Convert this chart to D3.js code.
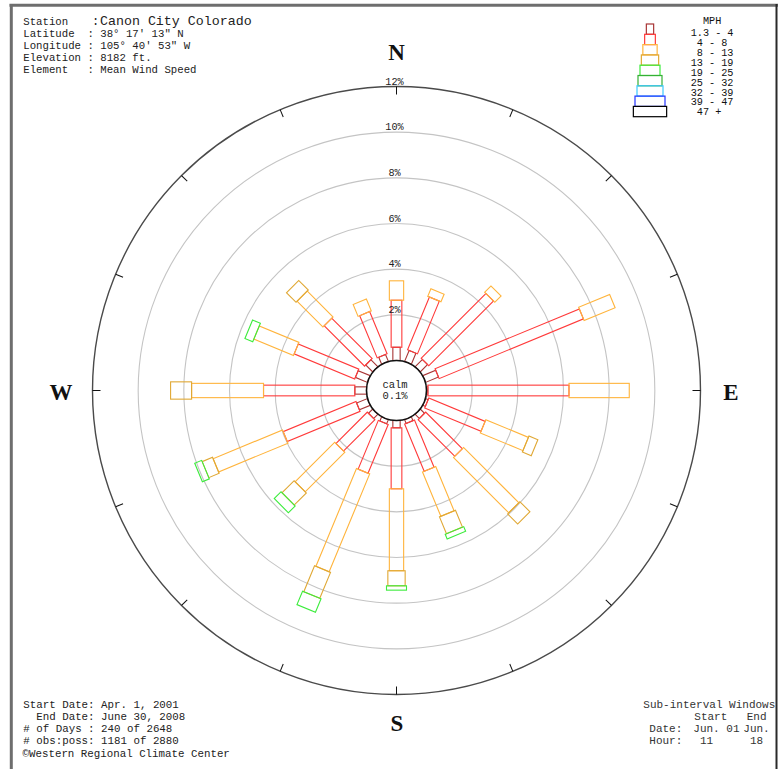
<!DOCTYPE html>
<html><head><meta charset="utf-8">
<script src="https://cdn.jsdelivr.net/npm/d3@7/dist/d3.min.js"></script>
<style>
html,body{margin:0;padding:0;background:#fff;overflow:hidden}
text{white-space:pre}
</style>
</head><body>
<svg id="chart" width="780" height="769" xmlns="http://www.w3.org/2000/svg"></svg>
<script>
// ---------- DATA ----------
const directions = ["N","NNE","NE","ENE","E","ESE","SE","SSE","S","SSW","SW","WSW","W","WNW","NW","NNW"];
const speedClasses = ["1.3 - 4"," 4 - 8"," 8 - 13","13 - 19","19 - 25","25 - 32","32 - 39","39 - 47"," 47 +"];
// percent of observations, per direction, for each speed class (MPH)
const s1_3to4  = [0.58,0.52,0.45,0.61,0.06,0.12,0.26,0.18,0.32,0.20,0.26,0.51,0.51,0.57,0.43,0.33];
const s4to8    = [2.06,2.50,4.01,6.84,6.18,2.67,2.27,2.24,2.67,2.31,1.94,3.45,4.00,2.87,2.50,2.00];
const s8to13   = [0.85,0.36,0.39,1.47,2.64,2.02,3.42,2.10,3.59,4.64,2.45,3.29,3.15,1.88,1.60,0.56];
const s13to19  = [0,0,0,0,0,0.42,0.62,0.80,0.66,1.23,0.75,0.49,0.92,0,0.59,0];
const s19to25  = [0,0,0,0,0,0,0,0.22,0.19,0.64,0.42,0.33,0,0.37,0,0];
const s25to32  = [0,0,0,0,0,0,0,0,0,0,0,0,0,0,0,0];
const s32to39  = [0,0,0,0,0,0,0,0,0,0,0,0,0,0,0,0];
const s39to47  = [0,0,0,0,0,0,0,0,0,0,0,0,0,0,0,0];
const s47plus  = [0,0,0,0,0,0,0,0,0,0,0,0,0,0,0,0];
const seriesValues = [s1_3to4,s4to8,s8to13,s13to19,s19to25,s25to32,s32to39,s39to47,s47plus];
const ringValues = [2,4,6,8,10,12];
const ringLabels = ["2%","4%","6%","8%","10%","12%"];
const calmText = ["calm","0.1%"];
const compassLabels = ["N","E","S","W"];

// ---------- STYLE ----------
const classColors = ["#a83636","#ff3a3a","#ffb43c","#e0a834","#3cec3c","#34b034","#3cc8ff","#2434ff","#000000"];
const classWidths = [7.3,10.7,14.3,17.3,20,24,26,30,33.3];

const svg = d3.select("#chart");
const cx = 396.5, cy = 390.5;
const mono = "'Liberation Mono','DejaVu Sans Mono',monospace";

// frame
svg.append("rect").attr("x",0).attr("y",0).attr("width",780).attr("height",769).attr("fill","#fff");

const r = d3.scaleLinear().domain([0,12]).range([30,304]);
const ang = d3.scalePoint().domain(directions).range([0,337.5]);

const g = svg.append("g").attr("transform",`translate(${cx},${cy})`);

// rings
g.selectAll("circle.ring").data(ringValues.slice(0,-1)).join("circle")
  .attr("class","ring").attr("r",d=>r(d)).attr("fill","none")
  .attr("stroke","#c4c4c4").attr("stroke-width",1.1);
g.append("circle").attr("r",r(12)).attr("fill","none").attr("stroke","#4a4a4a").attr("stroke-width",1.4);

// ticks on outer ring
g.selectAll("line.tick").data(directions).join("line")
  .attr("class","tick")
  .attr("transform",d=>`rotate(${ang(d)})`)
  .attr("x1",0).attr("x2",0).attr("y1",-r(12)).attr("y2",-r(12)+8)
  .attr("stroke","#111").attr("stroke-width",1);

// bars
directions.forEach((dir,di)=>{
  const dg = g.append("g").attr("transform",`rotate(${ang(dir)})`);
  let cum = 0;
  const segs = [];
  seriesValues.forEach((vals,ci)=>{
    const v = vals[di];
    if (v>0){ segs.push({ci, from:cum, to:cum+v}); }
    cum += v;
  });
  dg.selectAll("rect").data(segs).join("rect")
    .attr("x",d=>-classWidths[d.ci]/2)
    .attr("width",d=>classWidths[d.ci])
    .attr("y",d=>-r(d.to))
    .attr("height",d=>r(d.to)-r(d.from))
    .attr("fill","none")
    .attr("stroke",d=>classColors[d.ci])
    .attr("stroke-width",1.1);
});

// calm circle
g.append("circle").attr("r",r(0)).attr("fill","#fff").attr("stroke","#111").attr("stroke-width",1.6);
g.selectAll("text.calm").data(calmText).join("text")
  .attr("class","calm").attr("x",-1.5).attr("y",(d,i)=>-3+i*11)
  .attr("text-anchor","middle").attr("font-family",mono).attr("font-size",10.5)
  .attr("fill","#222").text(d=>d);

// ring labels
g.selectAll("text.rl").data(ringValues).join("text")
  .attr("class","rl").attr("x",-2).attr("y",d=>-r(d)-2)
  .attr("text-anchor","middle").attr("font-family",mono).attr("font-size",10.2)
  .attr("fill","#222").text((d,i)=>ringLabels[i]);

// compass labels
const compassPos = {N:[cx,60],E:[731,400],S:[397,731],W:[61,400]};
svg.selectAll("text.cmp").data(compassLabels).join("text")
  .attr("class","cmp").attr("x",d=>compassPos[d][0]).attr("y",d=>compassPos[d][1])
  .attr("text-anchor","middle").attr("font-family","'Liberation Serif','Times New Roman',serif")
  .attr("font-weight","bold").attr("font-size",23).attr("fill","#111").text(d=>d);

// header
const hdr = svg.append("g").attr("font-family",mono).attr("fill","#222");
hdr.append("text").attr("x",23.3).attr("y",25).attr("font-size",10.7).text("Station");
hdr.append("text").attr("x",92).attr("y",25).attr("font-size",12).text(":");
hdr.append("text").attr("x",100).attr("y",25).attr("font-size",13.3).text("Canon City Colorado");
const hdrLines = ["Latitude  : 38° 17' 13\" N","Longitude : 105° 40' 53\" W","Elevation : 8182 ft.","Element   : Mean Wind Speed"];
hdr.selectAll("text.hl").data(hdrLines).join("text").attr("class","hl")
  .attr("x",23.3).attr("y",(d,i)=>36.5+i*12).attr("font-size",10.7).text(d=>d);

// legend
const lg = svg.append("g");
lg.selectAll("rect").data(speedClasses).join("rect")
  .attr("x",(d,i)=>650-classWidths[i]/2).attr("width",(d,i)=>classWidths[i])
  .attr("y",(d,i)=>24+i*10.3).attr("height",10.3)
  .attr("fill","none").attr("stroke",(d,i)=>classColors[i]).attr("stroke-width",1.2);
lg.append("text").attr("x",690.7).attr("y",24).attr("font-family",mono).attr("font-size",10.2).attr("fill","#111").text("  MPH");
lg.selectAll("text.ll").data(speedClasses).join("text").attr("class","ll")
  .attr("x",690.7).attr("y",(d,i)=>35.8+i*9.95)
  .attr("font-family",mono).attr("font-size",10.2).attr("fill","#111").text(d=>d);

// bottom-left
const bl = ["Start Date: Apr. 1, 2001","  End Date: June 30, 2008","# of Days : 240 of 2648","# obs:poss: 1181 of 2880"];
svg.selectAll("text.bl").data(bl).join("text").attr("class","bl")
  .attr("x",23.3).attr("y",(d,i)=>708+i*12).attr("font-family",mono).attr("font-size",10.8)
  .attr("fill","#222").text(d=>d);
svg.append("text").attr("x",22.5).attr("y",757).attr("font-family",mono).attr("font-size",10.8)
  .attr("fill","#222").text("©Western Regional Climate Center");

// bottom-right (clipped at frame)
svg.append("clipPath").attr("id","clipR").append("rect").attr("x",0).attr("y",0).attr("width",775).attr("height",769);
const br = svg.append("g").attr("clip-path","url(#clipR)").attr("font-family",mono).attr("font-size",11).attr("fill","#333");
br.append("text").attr("x",643.3).attr("y",708).text("Sub-interval Windows");
br.append("text").attr("x",694.3).attr("y",720).text("Start");
br.append("text").attr("x",746.7).attr("y",720).text("End");
br.append("text").attr("x",649.3).attr("y",732).text("Date:");
br.append("text").attr("x",693.3).attr("y",732).text("Jun. 01");
br.append("text").attr("x",743.3).attr("y",732).text("Jun. 30");
br.append("text").attr("x",649.3).attr("y",743.5).text("Hour:");
br.append("text").attr("x",700).attr("y",743.5).text("11");
br.append("text").attr("x",750).attr("y",743.5).text("18");

// frame lines
svg.append("line").attr("x1",9.5).attr("x2",778).attr("y1",5.3).attr("y2",5.3).attr("stroke","#6e6e6e").attr("stroke-width",3);
svg.append("line").attr("x1",11.3).attr("x2",11.3).attr("y1",4).attr("y2",769).attr("stroke","#6e6e6e").attr("stroke-width",3);
svg.append("line").attr("x1",776.5).attr("x2",776.5).attr("y1",4).attr("y2",769).attr("stroke","#2a2a2a").attr("stroke-width",2);
</script>
</body></html>
